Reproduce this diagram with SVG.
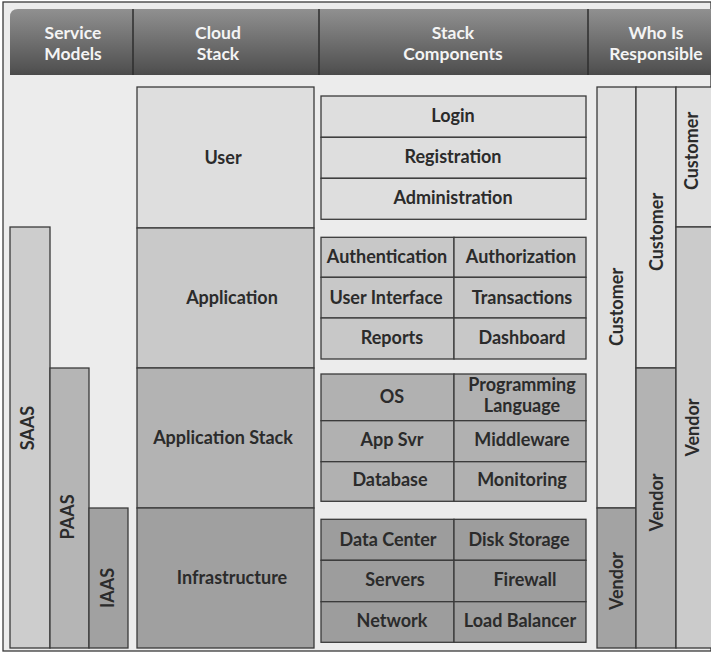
<svg xmlns="http://www.w3.org/2000/svg" width="711" height="652" viewBox="0 0 711 652">
<defs>
<linearGradient id="hdr" x1="0" y1="0" x2="0" y2="1">
<stop offset="0" stop-color="#909090"/>
<stop offset="0.9" stop-color="#545454"/>
<stop offset="1" stop-color="#4a4a4a"/>
</linearGradient>
<style>
.box{stroke:#3a3a3a;stroke-width:1.3}
.t{font-family:Lato,"Open Sans","Liberation Sans",sans-serif;font-weight:bold;font-size:18px;fill:#2b2b2b;text-anchor:middle}
.h{font-family:Lato,"Open Sans","Liberation Sans",sans-serif;font-weight:bold;font-size:17.5px;fill:#f4f4f4;text-anchor:middle}
.sep{stroke:#2e2e2e;stroke-width:1.5}
.c1{fill:#dedede}.c2{fill:#c8c8c8}.c3{fill:#b1b1b1}.c4{fill:#9d9d9d}
</style>
</defs>
<rect x="0" y="0" width="711" height="652" fill="#ffffff"/>
<rect x="3" y="2" width="708" height="649" fill="#ececec" stroke="#3a3a3a" stroke-width="1.3"/>

<g id="header">
<path d="M10 75 V17 Q10 9 18 9 H711 V75 Z" fill="url(#hdr)"/>
<line class="sep" x1="133" y1="9" x2="133" y2="75"/>
<line class="sep" x1="319" y1="9" x2="319" y2="75"/>
<line class="sep" x1="588" y1="9" x2="588" y2="75"/>
<text class="h" x="73" y="38.5">Service</text><text class="h" x="73" y="60">Models</text>
<text class="h" x="218" y="38.5">Cloud</text><text class="h" x="218" y="60">Stack</text>
<text class="h" x="453" y="38.5">Stack</text><text class="h" x="453" y="60">Components</text>
<text class="h" x="656" y="38.5">Who Is</text><text class="h" x="656" y="60">Responsible</text>
</g>

<g id="service-models">
<g id="saas"><rect class="box" x="10" y="227" width="40" height="421" fill="#cdcdcd"/><text class="t" transform="rotate(-90 34 428)" x="34" y="428">SAAS</text></g>
<g id="paas"><rect class="box" x="50" y="368" width="39" height="280" fill="#b5b5b5"/><text class="t" transform="rotate(-90 74 517)" x="74" y="517">PAAS</text></g>
<g id="iaas"><rect class="box" x="89" y="508" width="39" height="140" fill="#a1a1a1"/><text class="t" transform="rotate(-90 114 588)" x="114" y="588">IAAS</text></g>
</g>

<g id="cloud-stack">
<g id="user"><rect class="box" x="137" y="87" width="177" height="141" fill="#dedede"/><text class="t" x="223" y="164">User</text></g>
<g id="application"><rect class="box" x="137" y="228" width="177" height="140" fill="#c9c9c9"/><text class="t" x="232" y="304">Application</text></g>
<g id="application-stack"><rect class="box" x="137" y="368" width="177" height="140" fill="#b3b3b3"/><text class="t" x="223" y="444">Application Stack</text></g>
<g id="infrastructure"><rect class="box" x="137" y="508" width="177" height="140" fill="#a0a0a0"/><text class="t" x="232" y="584">Infrastructure</text></g>
</g>

<g id="components-user">
<rect class="box c1" x="321" y="96" width="265" height="41.3"/>
<rect class="box c1" x="321" y="137.3" width="265" height="41"/>
<rect class="box c1" x="321" y="178.3" width="265" height="41"/>
<text class="t" x="453" y="122">Login</text>
<text class="t" x="453" y="163">Registration</text>
<text class="t" x="453" y="204">Administration</text>
</g>

<g id="components-application">
<rect class="box c2" x="321" y="237.3" width="133" height="40"/>
<rect class="box c2" x="454" y="237.3" width="132" height="40"/>
<rect class="box c2" x="321" y="277.3" width="133" height="40.7"/>
<rect class="box c2" x="454" y="277.3" width="132" height="40.7"/>
<rect class="box c2" x="321" y="318" width="133" height="41"/>
<rect class="box c2" x="454" y="318" width="132" height="41"/>
<text class="t" x="387" y="263">Authentication</text>
<text class="t" x="521" y="263">Authorization</text>
<text class="t" x="386" y="303.5">User Interface</text>
<text class="t" x="522" y="303.5">Transactions</text>
<text class="t" x="392" y="344">Reports</text>
<text class="t" x="522" y="344">Dashboard</text>
</g>

<g id="components-application-stack">
<rect class="box c3" x="321" y="374" width="133" height="46.7"/>
<rect class="box c3" x="454" y="374" width="132" height="46.7"/>
<rect class="box c3" x="321" y="420.7" width="133" height="41"/>
<rect class="box c3" x="454" y="420.7" width="132" height="41"/>
<rect class="box c3" x="321" y="461.7" width="133" height="39.6"/>
<rect class="box c3" x="454" y="461.7" width="132" height="39.6"/>
<text class="t" x="392" y="403">OS</text>
<text class="t" x="522" y="391">Programming</text>
<text class="t" x="522" y="412">Language</text>
<text class="t" x="392" y="446">App Svr</text>
<text class="t" x="522" y="446">Middleware</text>
<text class="t" x="390" y="485.5">Database</text>
<text class="t" x="522" y="485.5">Monitoring</text>
</g>

<g id="components-infrastructure">
<rect class="box c4" x="321" y="519.3" width="133" height="41"/>
<rect class="box c4" x="454" y="519.3" width="132" height="41"/>
<rect class="box c4" x="321" y="560.3" width="133" height="41.4"/>
<rect class="box c4" x="454" y="560.3" width="132" height="41.4"/>
<rect class="box c4" x="321" y="601.7" width="133" height="40.6"/>
<rect class="box c4" x="454" y="601.7" width="132" height="40.6"/>
<text class="t" x="388" y="545.5">Data Center</text>
<text class="t" x="519" y="545.5">Disk Storage</text>
<text class="t" x="395" y="586">Servers</text>
<text class="t" x="525" y="586">Firewall</text>
<text class="t" x="392" y="627">Network</text>
<text class="t" x="520" y="627">Load Balancer</text>
</g>

<g id="responsible">
<g id="resp-iaas">
<rect class="box" x="597" y="87" width="39" height="421" fill="#e0e0e0"/>
<rect class="box" x="597" y="508" width="39" height="140" fill="#a3a3a3"/>
<text class="t" transform="rotate(-90 623 307)" x="623" y="307">Customer</text>
<text class="t" transform="rotate(-90 623 581)" x="623" y="581">Vendor</text>
</g>
<g id="resp-paas">
<rect class="box" x="636" y="87" width="40" height="281" fill="#e0e0e0"/>
<rect class="box" x="636" y="368" width="40" height="280" fill="#b3b3b3"/>
<text class="t" transform="rotate(-90 663 232)" x="663" y="232">Customer</text>
<text class="t" transform="rotate(-90 663 502.5)" x="663" y="502.5">Vendor</text>
</g>
<g id="resp-saas">
<rect class="box" x="676" y="87" width="36" height="140" fill="#e0e0e0"/>
<rect class="box" x="676" y="227" width="36" height="421" fill="#cbcbcb"/>
<text class="t" transform="rotate(-90 698 151)" x="698" y="151">Customer</text>
<text class="t" transform="rotate(-90 699 427.5)" x="699" y="427.5">Vendor</text>
</g>
</g>
</svg>
